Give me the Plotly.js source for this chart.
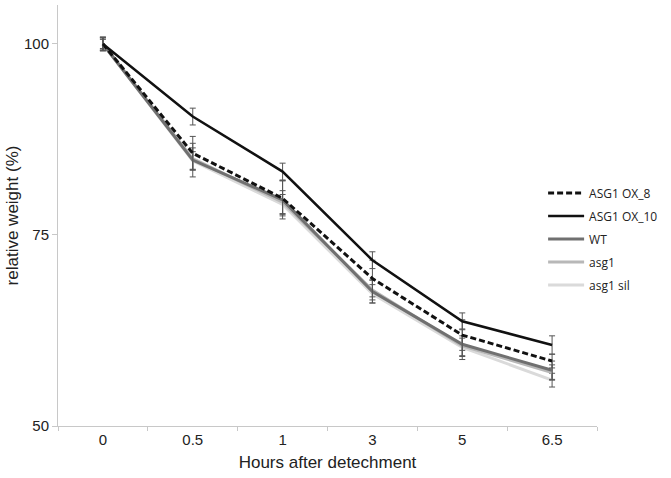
<!DOCTYPE html>
<html>
<head>
<meta charset="utf-8">
<script src="https://cdn.plot.ly/plotly-3.0.1.min.js"></script>
<style>html,body{margin:0;padding:0;background:#fff;}#chart{width:671px;height:478px;}</style>
</head>
<body>
<div id="chart"></div>
<script>
const hours = ["0", "0.5", "1", "3", "5", "6.5"];
const ox8 = [100, 85.7, 79.8, 69.3, 61.9, 58.5];
const ox8Err = [0.8, 2.2, 2.3, 2.4, 2.0, 0.9];
const ox10 = [100, 90.5, 83.3, 71.7, 63.7, 60.6];
const ox10Err = [0.9, 1.1, 1.1, 1.1, 1.1, 1.2];
const wt = [100, 84.8, 79.6, 67.6, 60.7, 57.3];
const wtErr = [0.9, 2.2, 2.5, 1.5, 2.0, 1.2];
const asg1 = [100, 85.0, 79.3, 67.8, 60.5, 57.0];
const asg1Err = [0.8, 1.4, 1.5, 1.3, 1.3, 1.0];
const asg1sil = [100, 84.7, 79.0, 67.3, 60.3, 56.0];
const asg1silErr = [0.6, 1.2, 1.3, 1.2, 1.2, 0.9];

function tr(name, y, err, color, width, dash, rank) {
  return {
    type: "scatter", mode: "lines", name: name, x: hours, y: y,
    line: {color: color, width: width, dash: dash},
    error_y: {type: "data", array: err, visible: true, color: "#555", thickness: 1, width: 3},
    legendgroup: name, legendrank: rank
  };
}

const traces = [
  tr("asg1 sil", asg1sil, asg1silErr, "#dadada", 3, "solid", 5),
  tr("asg1", asg1, asg1Err, "#b8b8b8", 3, "solid", 4),
  tr("WT", wt, wtErr, "#707070", 3, "solid", 3),
  tr("ASG1 OX_8", ox8, ox8Err, "#111111", 3, "6px,3px", 1),
  tr("ASG1 OX_10", ox10, ox10Err, "#111111", 2.5, "solid", 2)
];

const layout = {
  width: 671, height: 478,
  margin: {l: 58, r: 74, t: 5, b: 52},
  paper_bgcolor: "#fff", plot_bgcolor: "#fff",
  font: {family: "Liberation Sans, Arial, sans-serif", color: "#222"},
  showlegend: true,
  legend: {
    x: 0.9, y: 0.588, xanchor: "left", yanchor: "top",
    traceorder: "grouped", tracegroupgap: 4,
    font: {family: "Open Sans, sans-serif", size: 12, color: "#222"},
    bgcolor: "rgba(0,0,0,0)", itemwidth: 36
  },
  xaxis: {
    type: "category", range: [-0.5, 5.5],
    showline: true, linecolor: "#c8c8c8", linewidth: 1,
    ticks: "outside", tickson: "boundaries", ticklen: 4, tickcolor: "#c8c8c8",
    showgrid: false, zeroline: false,
    tickfont: {size: 15, color: "#222"},
    title: {text: "Hours after detechment", font: {size: 17, color: "#222"}, standoff: 9}
  },
  yaxis: {
    range: [50, 105.1], tickvals: [50, 75, 100], ticktext: ["50", "75", "100"],
    showline: true, linecolor: "#c8c8c8", linewidth: 1,
    ticks: "outside", ticklen: 5, tickcolor: "#c8c8c8",
    showgrid: false, zeroline: false,
    tickfont: {size: 15, color: "#222"},
    title: {text: "relative weight (%)", font: {size: 17, color: "#222"}, standoff: 1}
  }
};

Plotly.newPlot("chart", traces, layout, {staticPlot: true, displayModeBar: false});
</script>
</body>
</html>
